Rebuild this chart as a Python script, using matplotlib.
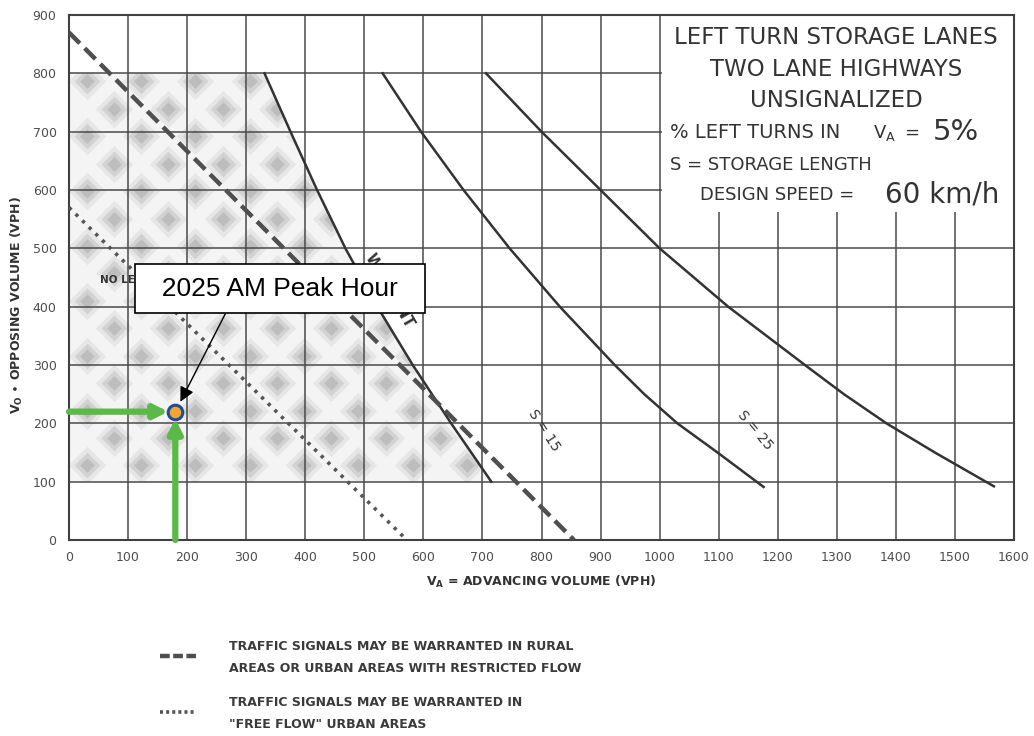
import numpy as np
import matplotlib.pyplot as plt
from matplotlib.patches import Rectangle
from matplotlib.lines import Line2D

plt.rcParams['font.family'] = ['DejaVu Sans']
plt.rcParams['lines.scale_dashes'] = False

# --- values (x = advancing vph, y = opposing vph) ---
warrant_x = [331, 375, 420, 468, 522, 582, 647, 715]
warrant_y = [800, 700, 600, 500, 400, 300, 200, 100]

s15_x = [531, 596, 668, 746, 831, 924, 974, 1030, 1098, 1176]
s15_y = [800, 700, 600, 500, 400, 300, 250, 200, 150, 91]

s25_x = [706, 800, 900, 1000, 1116, 1246, 1312, 1384, 1466, 1566]
s25_y = [800, 700, 600, 500, 400, 300, 250, 200, 150, 92]

rural_x = [0, 855]          # dashed: rural / restricted flow
rural_y = [870, 0]
freeflow_x = [0, 572]       # dotted: free flow urban
freeflow_y = [570, 0]

peak_x, peak_y = 180, 220   # 2025 AM peak hour

x_ticks = np.arange(0, 1601, 100)
y_ticks = np.arange(0, 901, 100)

ink = '#333333'
green = '#5bb947'

fig = plt.figure(figsize=(10.34, 7.36), dpi=100)
ax = fig.add_axes([69 / 1034, 196 / 736, 945 / 1034, 525 / 736])
ax.set_xlim(0, 1600)
ax.set_ylim(0, 900)
ax.set_xticks(x_ticks)
ax.set_yticks(y_ticks)
ax.set_axisbelow(True)
ax.grid(True, color='#4a4a4a', lw=1.1)
for sp in ax.spines.values():
    sp.set_color('#404040')
    sp.set_linewidth(1.5)
ax.tick_params(length=0, labelsize=9, labelcolor='#4d4d4d')
ax.tick_params(axis='x', pad=8)
ax.tick_params(axis='y', pad=9)

# shaded "no left turn lane" zone with soft stipple blobs
shade = ax.fill([0, 0] + warrant_x, [100, 800] + warrant_y,
                color='#f4f4f4', lw=0, zorder=0.2)[0]
gx, gy = np.meshgrid(np.arange(30, 780, 92), np.arange(128, 800, 47))
gx = gx + (np.arange(gy.shape[0]) % 2)[:, None] * 46
for size, col in [(360, '#e6e6e6'), (170, '#d2d2d2'), (55, '#bdbdbd')]:
    blobs = ax.scatter(gx.ravel(), gy.ravel(), s=size, marker='D',
                       color=col, lw=0, zorder=0.3)
    blobs.set_clip_path(shade)

# white panel behind the title block
ax.add_patch(Rectangle((1004, 563), 594, 335, fc='white', ec='none', zorder=0.8))

ax.plot(warrant_x, warrant_y, color=ink, lw=1.8, zorder=3)
ax.plot(s15_x, s15_y, color=ink, lw=1.8, zorder=3)
ax.plot(s25_x, s25_y, color=ink, lw=1.8, zorder=3)
ax.plot(rural_x, rural_y, color='#4f4f4f', lw=3.2, dashes=(11, 5), zorder=3)
ax.plot(freeflow_x, freeflow_y, color='#555555', lw=2.6, dashes=(2.4, 4.3), zorder=3)

# curve labels
ax.text(52, 446, 'NO LEFT TURN LANE', fontsize=7.5, fontweight='bold',
        color=ink, va='center', zorder=4)
ax.text(542, 428, 'WARRANT', fontsize=10.5, fontweight='bold', color=ink,
        rotation=-60, ha='center', va='center', zorder=4)
ax.text(805, 188, 'S = 15', fontsize=10, color=ink, rotation=-57,
        ha='center', va='center', zorder=4)
ax.text(1162, 188, 'S = 25', fontsize=10, color=ink, rotation=-50,
        ha='center', va='center', zorder=4)

# title block
ax.text(1299, 861, 'LEFT TURN STORAGE LANES', fontsize=16.5, color=ink, ha='center', va='center')
ax.text(1299, 807, 'TWO LANE HIGHWAYS', fontsize=16.5, color=ink, ha='center', va='center')
ax.text(1299, 753, 'UNSIGNALIZED', fontsize=16.5, color=ink, ha='center', va='center')
ax.text(1018, 698, '% LEFT TURNS IN', fontsize=14, color=ink, va='center')
ax.text(1361, 698, r'$\mathregular{V_A}$', fontsize=13, color=ink, va='center')
ax.text(1427, 698, '=', fontsize=13, color=ink, ha='center', va='center')
ax.text(1463, 700, '5%', fontsize=21, color=ink, va='center')
ax.text(1018, 643, 'S = STORAGE LENGTH', fontsize=13, color=ink, va='center')
ax.text(1068, 591, 'DESIGN SPEED =', fontsize=13, color=ink, va='center')
ax.text(1382, 593, '60 km/h', fontsize=20, color=ink, va='center')

# peak hour point with guide arrows
green_kw = dict(arrowstyle='-|>', color=green, lw=4.5, mutation_scale=20,
                shrinkA=0, shrinkB=5)
ax.annotate('', xy=(peak_x, peak_y), xytext=(0, peak_y), arrowprops=green_kw, zorder=9)
ax.annotate('', xy=(peak_x, peak_y), xytext=(peak_x, 0), arrowprops=green_kw, zorder=9)
ax.scatter([peak_x], [peak_y], s=110, c='#f5a52f', edgecolors='#1b4f9c',
           linewidths=2.2, zorder=11)
ax.annotate('  2025 AM Peak Hour  ', xy=(peak_x, peak_y), xytext=(357, 431),
            ha='center', va='center', fontsize=19, family='Liberation Sans',
            bbox=dict(boxstyle='square,pad=0.46', fc='white', ec='black', lw=1.2),
            arrowprops=dict(arrowstyle='-|>', color='black', lw=1, mutation_scale=22,
                            shrinkA=0, shrinkB=8, relpos=(0.32, 0)),
            zorder=12)

# overlay in pixel units for axis titles and the key
lax = fig.add_axes([0, 0, 1, 1], facecolor='none')
lax.set_xlim(0, 1034)
lax.set_ylim(736, 0)
lax.axis('off')

lax.text(17, 305, r'$\mathregular{V_O}$ $\bullet$ OPPOSING VOLUME (VPH)', rotation=90,
         ha='center', va='center', fontsize=9, fontweight='bold', color=ink)
lax.text(541, 582, r'$\mathregular{V_A}$ = ADVANCING VOLUME (VPH)',
         ha='center', va='center', fontsize=9, fontweight='bold', color=ink)

lax.add_line(Line2D([160, 196], [656, 656], color='#4f4f4f', lw=3.2, dashes=(7, 2.5)))
lax.add_line(Line2D([160, 196], [712, 712], color='#555555', lw=2.6, dashes=(2.2, 2.2)))
key_kw = dict(fontsize=9, fontweight='bold', color='#3a3a3a', va='center')
lax.text(229, 647, 'TRAFFIC SIGNALS MAY BE WARRANTED IN RURAL', **key_kw)
lax.text(229, 668, 'AREAS OR URBAN AREAS WITH RESTRICTED FLOW', **key_kw)
lax.text(229, 703, 'TRAFFIC SIGNALS MAY BE WARRANTED IN', **key_kw)
lax.text(229, 724, '"FREE FLOW" URBAN AREAS', **key_kw)

fig.savefig('out.png', dpi=100)
